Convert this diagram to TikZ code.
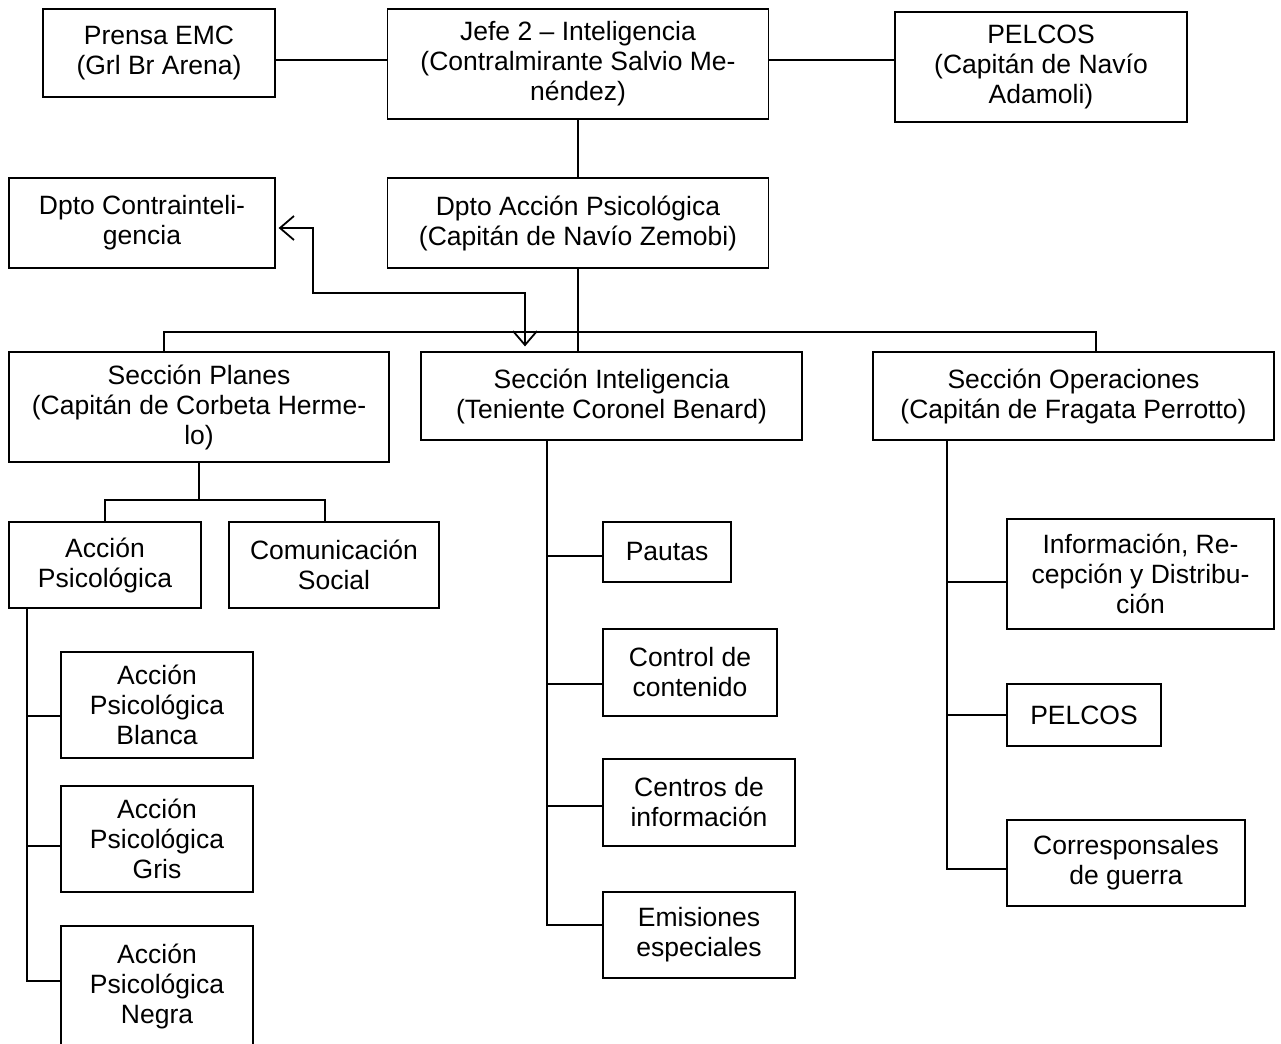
\documentclass[tikz,border=0pt]{standalone}
\usepackage{fontspec}
\setmainfont{Liberation Sans}
\usetikzlibrary{arrows.meta}
\newcommand{\boxfont}{\fontsize{26.5}{30}\selectfont}
\tikzset{
  unit/.style={draw, line width=1.2pt, align=center, inner sep=0pt, font=\boxfont},
  link/.style={line width=1.8pt},
  duallink/.style={link, {Straight Barb[length=14pt,width=24pt]}-{Straight Barb[length=14pt,width=24pt]}}
}

\begin{document}
\begin{tikzpicture}[x=1pt,y=-1pt]
	\useasboundingbox (0,0) rectangle (1281,1043);
	\clip (0,0) rectangle (1281,1043);
	% top row
	\node[unit, minimum width=232pt, minimum height=88pt] (prensa) at (159,53) {Prensa EMC\\(Grl Br Arena)};
	\node[unit, minimum width=381pt, minimum height=110pt] (jefe) at (578,64) {Jefe 2 – Inteligencia\\(Contralmirante Salvio Me-\\néndez)};
	\node[unit, minimum width=292pt, minimum height=110pt] (pelcos) at (1041,67) {PELCOS\\(Capitán de Navío\\Adamoli)};
	\node[unit, minimum width=266pt, minimum height=90pt] (contra) at (142,223) {Dpto Contrainteli-\\gencia};
	\node[unit, minimum width=381pt, minimum height=90pt] (dptoap) at (578,223) {Dpto Acción Psicológica\\(Capitán de Navío Zemobi)};
	% secciones
	\node[unit, minimum width=380pt, minimum height=110pt] (planes) at (199,407) {Sección Planes\\(Capitán de Corbeta Herme-\\lo)};
	\node[unit, minimum width=381pt, minimum height=88pt] (intel) at (611.5,396) {Sección Inteligencia\\(Teniente Coronel Benard)};
	\node[unit, minimum width=401pt, minimum height=88pt] (oper) at (1073.5,396) {Sección Operaciones\\(Capitán de Fragata Perrotto)};
	% planes
	\node[unit, minimum width=192pt, minimum height=86pt] (accion) at (105,565) {Acción\\Psicológica};
	\node[unit, minimum width=210pt, minimum height=86pt] (comsoc) at (334,565) {Comunicación\\Social};
	\node[unit, minimum width=192pt, minimum height=106pt] (blanca) at (157,705) {Acción\\Psicológica\\Blanca};
	\node[unit, minimum width=192pt, minimum height=106pt] (gris) at (157,839) {Acción\\Psicológica\\Gris};
	\node[unit, minimum width=192pt, minimum height=120pt] (negra) at (157,986) {Acción\\Psicológica\\Negra};
	% inteligencia
	\node[unit, minimum width=128pt, minimum height=60pt] (pautas) at (667,552) {Pautas};
	\node[unit, minimum width=174pt, minimum height=87pt] (control) at (690,672.5) {Control de\\contenido};
	\node[unit, minimum width=192pt, minimum height=87pt] (centros) at (699,802.5) {Centros de\\información};
	\node[unit, minimum width=192pt, minimum height=86pt] (emis) at (699,935) {Emisiones\\especiales};
	% operaciones
	\node[unit, minimum width=267pt, minimum height=110pt] (info) at (1140.5,574) {Información, Re-\\cepción y Distribu-\\ción};
	\node[unit, minimum width=154pt, minimum height=62pt] (pelcosb) at (1084,715) {PELCOS};
	\node[unit, minimum width=238pt, minimum height=86pt] (corr) at (1126,863) {Corresponsales\\de guerra};

	% lines
	\draw[link] ([yshift=4pt]jefe.west) coordinate (jw) -- (jw -| prensa.east);
	\draw[link] ([yshift=4pt]jefe.east) coordinate (je) -- (je -| pelcos.west);
	\draw[link] (jefe.south) -- (dptoap.north);
	\draw[link] (dptoap.south) -- (dptoap.south |- intel.north);
	\coordinate (busL) at (164,332);
	\coordinate (busR) at (1096,332);
	\draw[link] (busL |- planes.north) -- (busL) -- (busR) -- (busR |- oper.north);
	\coordinate (kink) at (313,293);
	\draw[duallink, shorten <=3pt] ([yshift=-5pt]contra.east) -| (kink) -| ([xshift=-86.5pt,yshift=5pt]intel.north);

	\coordinate (pbusL) at (105,500);
	\coordinate (pbusR) at (325,500);
	\draw[link] (planes.south) -- (planes.south |- pbusL);
	\draw[link] (accion.north) -- (pbusL) -- (pbusR) -- (pbusR |- comsoc.north);
	\coordinate (apSpine) at (27,608);
	\draw[link] (apSpine) |- ([yshift=5pt]negra.west);
	\draw[link] ([yshift=-11pt]blanca.west) coordinate (bw) -- (bw -| apSpine);
	\draw[link] ([yshift=-7pt]gris.west) coordinate (gw) -- (gw -| apSpine);

	\coordinate (siSpine) at (547,440);
	\draw[link] (siSpine) |- ([yshift=10pt]emis.west);
	\draw[link] ([yshift=-4pt]pautas.west) coordinate (pw) -- (pw -| siSpine);
	\draw[link] ([yshift=-11.5pt]control.west) coordinate (cw) -- (cw -| siSpine);
	\draw[link] ([yshift=-3.5pt]centros.west) coordinate (zw) -- (zw -| siSpine);

	\coordinate (soSpine) at (947,440);
	\draw[link] (soSpine) |- ([yshift=-6pt]corr.west);
	\draw[link] ([yshift=-8pt]info.west) coordinate (iw) -- (iw -| soSpine);
	\draw[link] (pelcosb.west) -- (pelcosb.west -| soSpine);
\end{tikzpicture}
\end{document}
